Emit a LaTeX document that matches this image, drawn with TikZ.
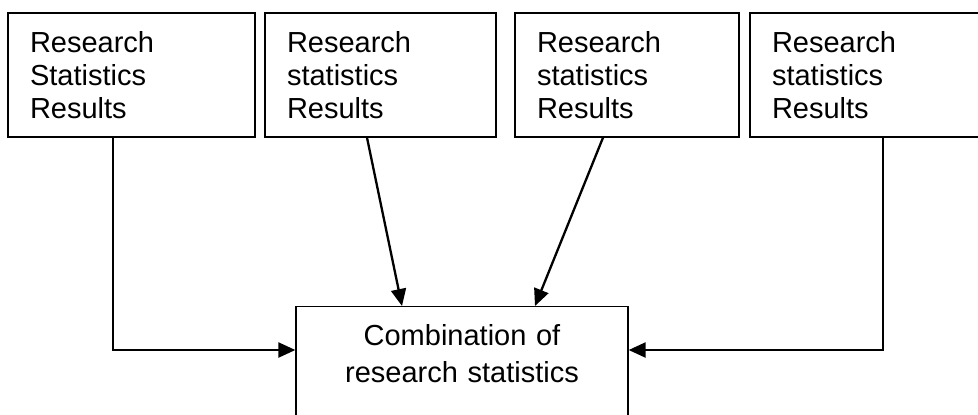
\documentclass[tikz,border=0pt]{standalone}
\usepackage{fontspec}
\setmainfont{Liberation Sans}
\usetikzlibrary{arrows.meta}

\begin{document}
\begin{tikzpicture}[
      x=0.5pt, y=-0.5pt,
      >={Triangle[length=8.5pt, width=7.5pt]},
      srcbox/.style={draw, line width=0.65pt, align=left, inner xsep=11pt, minimum height=62pt, font=\fontsize{14.5}{16.5}\selectfont},
      sinkbox/.style={draw, line width=0.65pt, align=center, text width=144pt, inner xsep=11pt, inner ysep=9pt, text depth=30pt, anchor=north, font=\fontsize{14.5}{18.5}\selectfont},
      bus/.style={->, line width=1.15pt}
    ]

    \useasboundingbox (0,0) rectangle (978,414);
    \clip (0,0) rectangle (978,414);

    \node[srcbox, text width=101.5pt] (src_a) at (131.5,75) {Research\\Statistics\\Results};
    \node[srcbox, text width=93.5pt] (src_b) at (380.5,75) {Research\\statistics\\Results};
    \node[srcbox, text width=90pt] (src_c) at (627,75) {Research\\statistics\\Results};
    \node[srcbox, text width=98pt] (src_d) at (870,75) {Research\\statistics\\Results};

    \node[sinkbox] (combine) at (462,306) {Combination of\\research statistics};

    \draw[bus] ([xshift=-9.25pt]src_a.south) |- ([yshift=-22pt]combine.north west);
    \draw[bus] ([xshift=-6.75pt]src_b.south) -- ([xshift=-30pt]combine.north);
    \draw[bus] ([xshift=-12pt]src_c.south) -- ([xshift=36.5pt]combine.north);
    \draw[bus] ([xshift=6.5pt]src_d.south) |- ([yshift=-22pt]combine.north east);

  \end{tikzpicture}
\end{document}
